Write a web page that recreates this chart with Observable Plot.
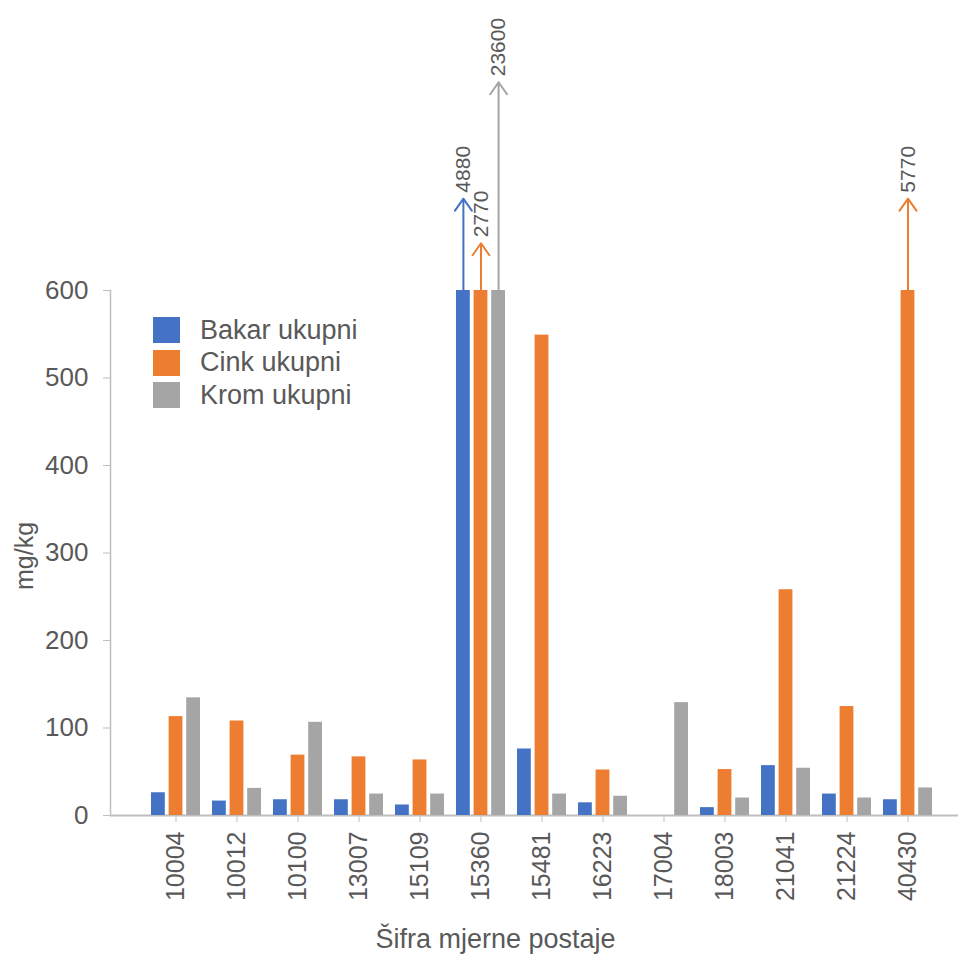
<!DOCTYPE html>
<html><head><meta charset="utf-8">
<script src="https://cdn.jsdelivr.net/npm/d3@7"></script>
<script src="https://cdn.jsdelivr.net/npm/@observablehq/plot@0.6"></script>
<style>
body{margin:0;background:#fff;font-family:"Liberation Sans",Arial,sans-serif;}
#wrap{position:relative;width:958px;height:956px;}
#legend{position:absolute;left:153px;top:314px;}
.item{display:flex;align-items:center;height:32.5px;font-size:27px;color:#595959;}
.sw{width:27px;height:26px;margin-right:20px;}
</style></head><body><div id="wrap"><div id="legend"></div></div>
<script>
const stations = ["10004","10012","10100","13007","15109","15360","15481","16223","17004","18003","21041","21224","40430"];
const seriesNames = ["Bakar ukupni","Cink ukupni","Krom ukupni"];
const seriesColors = ["#4472C4","#ED7D31","#A5A5A5"];
const bakar = [26, 16.5, 18, 18, 12, 4880, 76, 14.5, null, 9, 57, 24.5, 18];
const cink  = [113, 108, 69, 67, 63.5, 2770, 549, 52, null, 52.5, 258, 124.5, 5770];
const krom  = [134.5, 31, 106.5, 24.5, 24.5, 23600, 24.5, 22, 129, 20, 54, 20, 31.5];
const yMax = 600;
const yTicks = [0, 100, 200, 300, 400, 500, 600];
// arrow tip level (in mg/kg on the broken axis) for values above yMax, in order of appearance
const arrowTips = [705, 654, 838, 705];
const xTitle = "Šifra mjerne postaje";
const yTitle = "mg/kg";

const allSeries = [bakar, cink, krom];
const rows = [];
stations.forEach((st, i) => allSeries.forEach((vals, k) => {
  if (vals[i] != null) rows.push({station: st, k, series: seriesNames[k], value: vals[i]});
}));
const breaks = rows.filter(d => d.value > yMax).map((d, j) => ({...d, tip: arrowTips[j]}));

const step = 17.6;
const marks = [
  Plot.frame({anchor: "left", stroke: "#bfbfbf", strokeWidth: 1.5}),
  Plot.ruleY([0], {stroke: "#bfbfbf", strokeWidth: 2})
];
seriesNames.forEach((name, k) => {
  const data = rows.filter(d => d.k === k);
  const inL = k * step, inR = (2 - k) * step;
  marks.push(Plot.barY(data, {x: "station", y: d => Math.min(d.value, yMax), fill: seriesColors[k], insetLeft: inL, insetRight: inR}));
  const br = breaks.filter(d => d.k === k);
  marks.push(Plot.arrow(br, {x: "station", y1: yMax, y2: "tip", stroke: seriesColors[k], strokeWidth: 2, headLength: 11, headAngle: 70, dx: (k - 1) * step}));
  marks.push(Plot.text(br, {x: "station", y: "tip", text: d => String(d.value), rotate: -90, textAnchor: "start", fontSize: 21, fill: "#595959", dy: -6, dx: (k - 1) * step}));
});
marks.push(
  Plot.axisY({ticks: yTicks, tickSize: 7, tickPadding: 15, fontSize: 26, stroke: "#bfbfbf", fill: "#595959", label: null}),
  Plot.axisX({tickSize: 7, tickPadding: 9, tickRotate: -90, fontSize: 25, stroke: "#bfbfbf", fill: "#595959", label: null}),
  Plot.text([xTitle], {frameAnchor: "bottom", dy: 132, dx: -39, fontSize: 27, fill: "#595959"}),
  Plot.text([yTitle], {frameAnchor: "left", rotate: -90, dx: -86, dy: 37, fontSize: 25, fill: "#595959"})
);

const chart = Plot.plot({
  width: 958, height: 956,
  marginTop: 290, marginBottom: 141, marginLeft: 110, marginRight: 0,
  style: {fontFamily: "'Liberation Sans', Arial, sans-serif", background: "white", color: "#595959"},
  x: {domain: stations, paddingInner: 0.2, paddingOuter: 0.4885, align: 0.617},
  y: {domain: [0, yMax]},
  marks
});
const wrap = document.getElementById("wrap");
wrap.insertBefore(chart, wrap.firstChild);
const legend = document.getElementById("legend");
seriesNames.forEach((n, k) => {
  const it = document.createElement("div"); it.className = "item";
  const sw = document.createElement("div"); sw.className = "sw"; sw.style.background = seriesColors[k];
  const tx = document.createElement("span"); tx.textContent = n;
  it.appendChild(sw); it.appendChild(tx); legend.appendChild(it);
});
</script></body></html>
